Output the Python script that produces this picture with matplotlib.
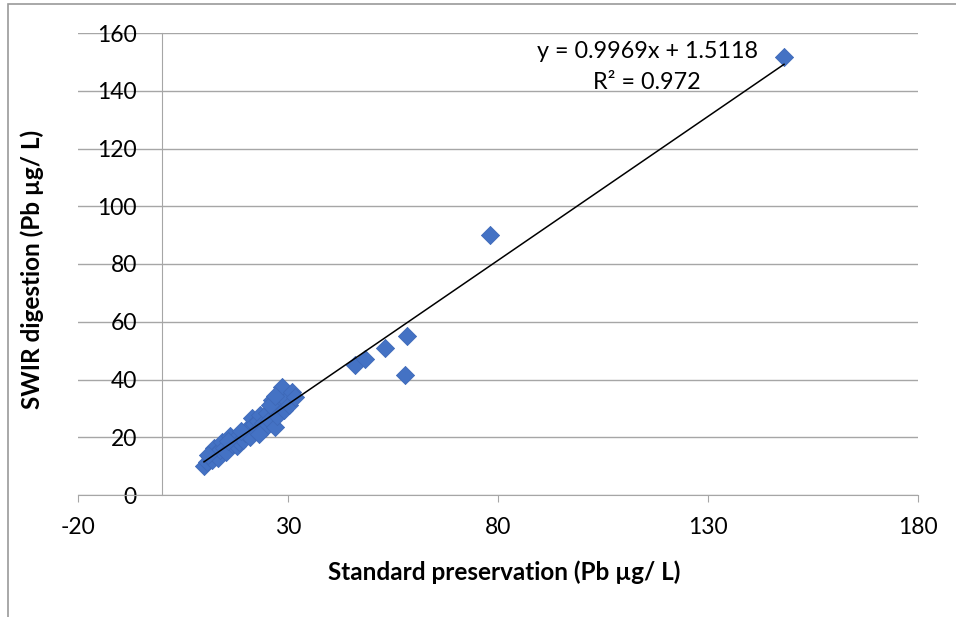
import numpy as np
import matplotlib.pyplot as plt
from matplotlib.patches import Rectangle

plt.rcParams['font.family'] = ['Lato', 'DejaVu Sans']
plt.rcParams['axes.unicode_minus'] = False

# Pb values (standard preservation vs SWIR digestion)
standard = [10.0, 10.8, 11.5, 12.0, 12.4, 12.8, 13.3, 13.8, 14.3, 14.8,
            15.2, 16.2, 16.6, 17.2, 17.8, 18.3, 19.3, 19.8, 20.3, 21.0,
            21.4, 21.9, 22.4, 22.9, 23.4, 24.0, 24.5, 25.0, 25.5, 26.2,
            26.5, 26.9, 27.3, 27.8, 28.6, 29.0, 29.6, 30.2, 31.0, 31.7,
            11.0, 15.7, 18.8, 23.0, 25.8, 27.0,
            46.0, 48.3, 53.1, 58.3, 57.9, 78.1, 148.1]
swir = [10.0, 11.5, 13.0, 12.2, 16.3, 14.5, 12.8, 15.5, 18.4, 16.2,
        14.8, 20.4, 17.5, 19.0, 16.8, 18.2, 19.0, 21.5, 23.0, 20.2,
        26.7, 24.5, 22.0, 25.5, 27.8, 24.8, 23.2, 28.5, 26.0, 32.9,
        30.0, 23.6, 27.5, 31.5, 37.4, 29.5, 33.0, 31.0, 35.5, 34.0,
        14.0, 18.6, 22.0, 21.2, 31.0, 34.2,
        45.0, 47.1, 50.9, 55.1, 41.6, 90.0, 151.7]

slope = 0.9969
intercept = 1.5118
r_squared = 0.972

xticks = [-20, 30, 80, 130, 180]
yticks = [0, 20, 40, 60, 80, 100, 120, 140, 160]

fig = plt.figure(figsize=(9.56, 6.17), dpi=100)
ax = fig.add_axes([78 / 956, 122 / 617, 840 / 956, 462 / 617])

ax.scatter(standard, swir, marker='D', s=85, color='#4472C4',
           edgecolors='#3E69B8', linewidths=0.6, zorder=3)

xs = np.array([min(standard), max(standard)])
ax.plot(xs, slope * xs + intercept, color='black', lw=1.1, zorder=4)

ax.text(115.5, 153.5, 'y = 0.9969x + 1.5118', ha='center', va='center', fontsize=16.8)
ax.text(115.5, 142.8, 'R² = 0.972', ha='center', va='center', fontsize=16.8)

ax.set_xlim(-20, 180)
ax.set_ylim(0, 160)
ax.set_xticks(xticks)
ax.set_yticks(yticks)

ax.grid(axis='y', color='#A6A6A6', lw=1.0)
ax.set_axisbelow(True)

ax.spines['top'].set_visible(False)
ax.spines['right'].set_visible(False)
ax.spines['left'].set_position(('data', 0))
ax.spines['left'].set_color('#A6A6A6')
ax.spines['bottom'].set_color('#A6A6A6')

ax.tick_params(axis='x', length=5, color='#A6A6A6', pad=11, labelsize=16.5)
ax.tick_params(axis='y', length=0, pad=18, labelsize=16.5)

fig.text(504 / 956, 1 - 572 / 617, 'Standard preservation (Pb µg/ L)',
         ha='center', va='center', fontsize=17.5, fontweight='bold')
fig.text(32 / 956, 1 - 269 / 617, 'SWIR digestion (Pb µg/ L)',
         ha='center', va='center', fontsize=17.5, fontweight='bold', rotation=90)

# chart frame (only top and left edges are inside the picture)
fig.patches.append(Rectangle((8 / 956, -0.1), 2, 1.1 - 4 / 617,
                             transform=fig.transFigure, fill=False,
                             edgecolor='#9A9A9A', lw=1.2))

fig.savefig('out.png', dpi=100)
